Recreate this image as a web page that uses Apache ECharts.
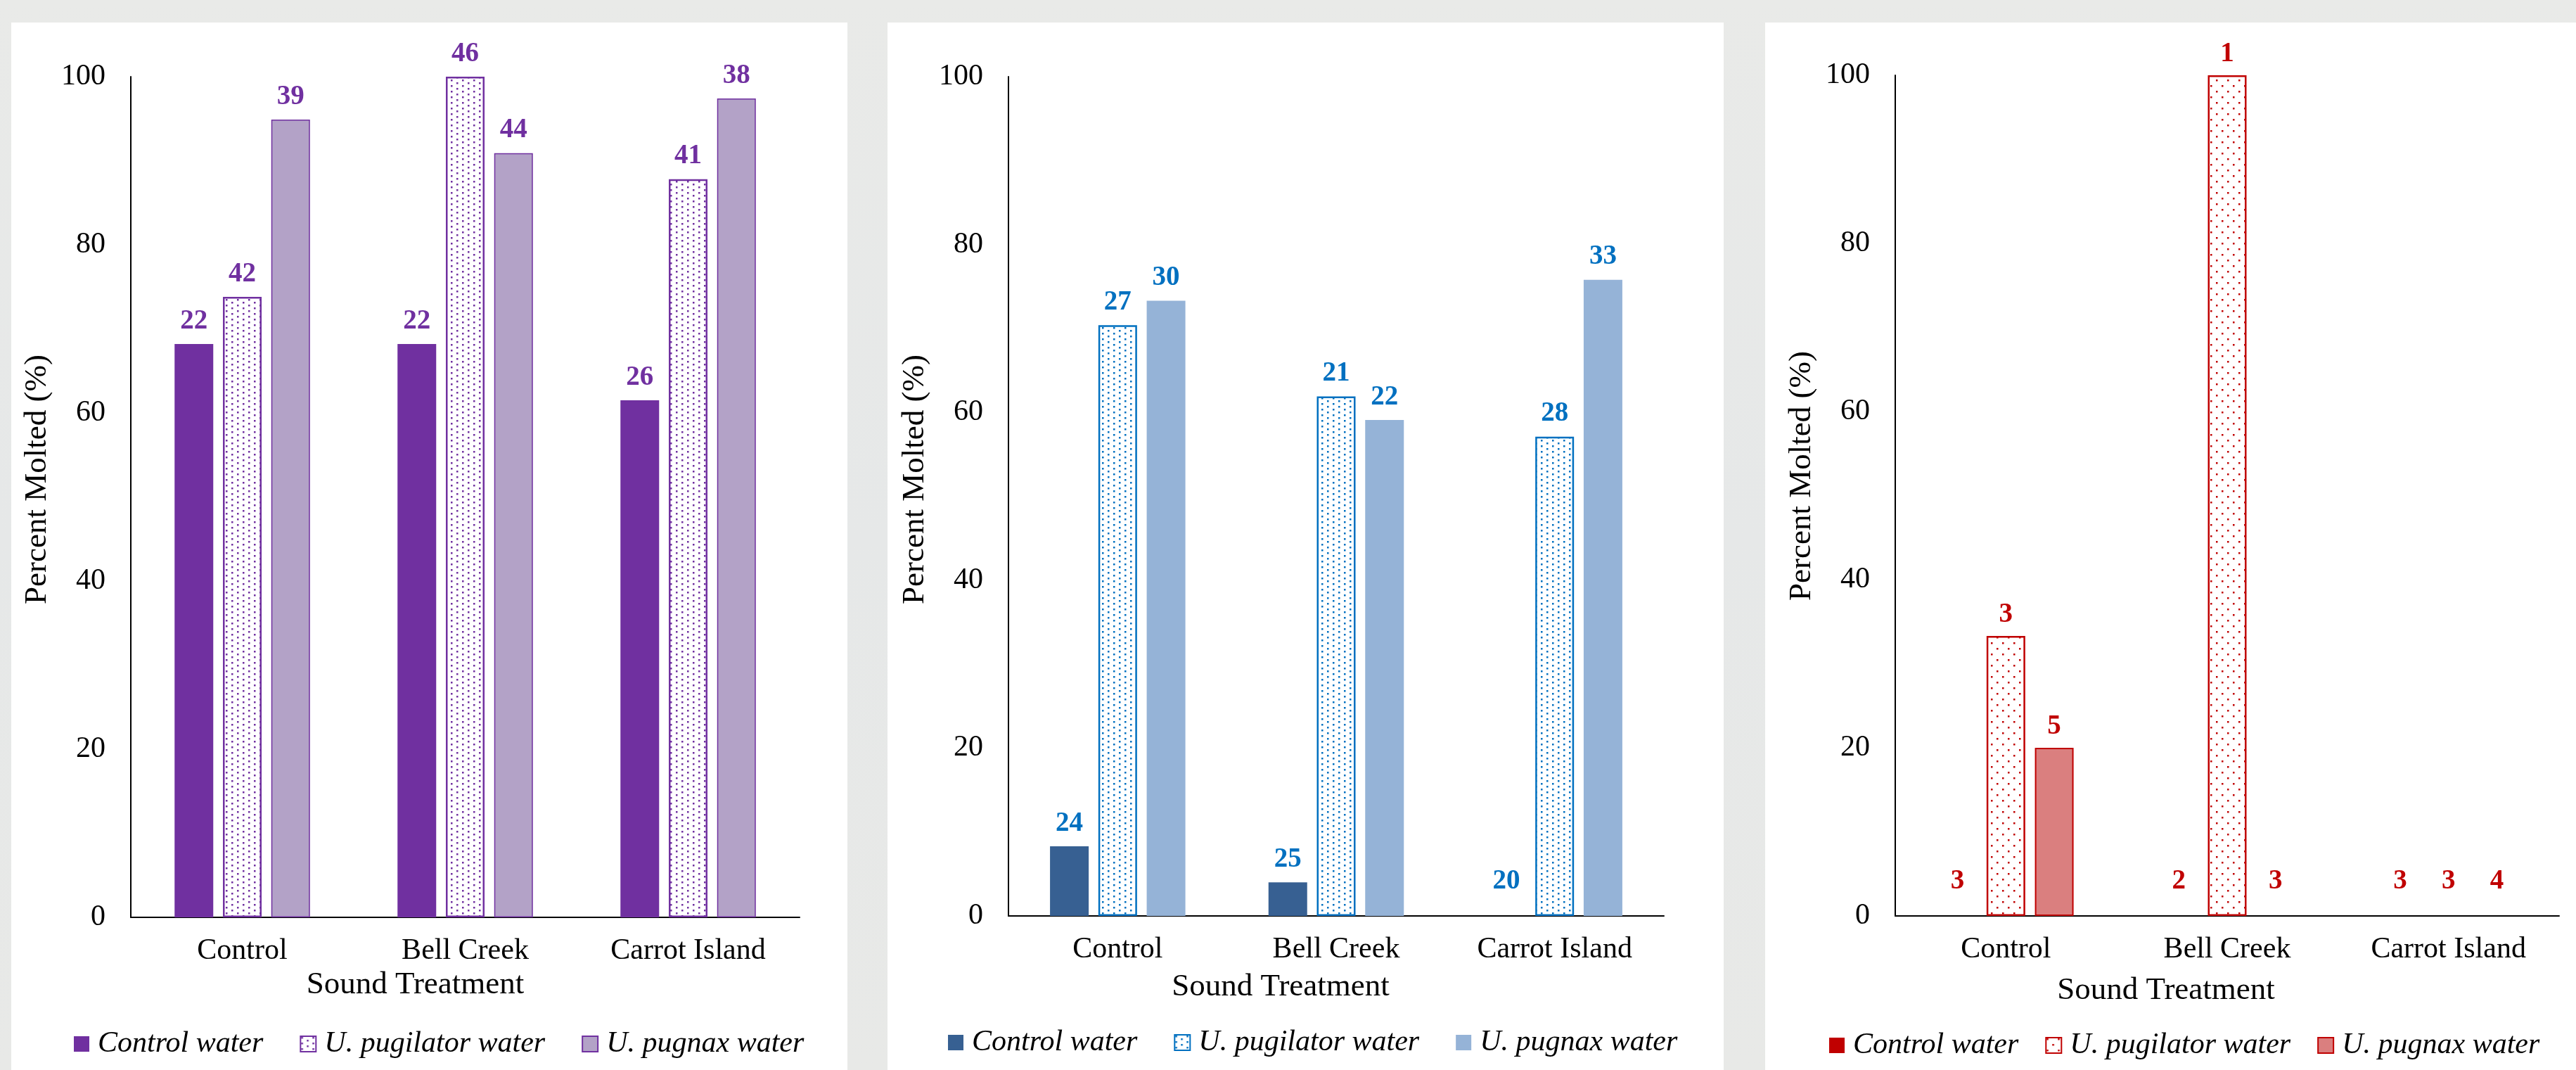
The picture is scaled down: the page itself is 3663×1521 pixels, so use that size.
<!DOCTYPE html>
<html>
<head>
<meta charset="utf-8">
<script src="https://cdn.jsdelivr.net/npm/echarts@6/dist/echarts.min.js"></script>
<style>
html,body{margin:0;padding:0;width:3663px;height:1521px;overflow:hidden;}
body{background:linear-gradient(180deg,#e9eae8 0%,#e6e8e8 50%,#e8e9e7 100%);}
.panel{position:absolute;background:#fff;top:32px;height:1489px;}
#p1{left:16px;width:1189px;}
#p2{left:1262px;width:1189px;}
#p3{left:2510px;width:1153px;}
</style>
</head>
<body>
<div id="p1" class="panel"></div>
<div id="p2" class="panel"></div>
<div id="p3" class="panel"></div>
<script>
// ---------- data ----------
const categories = ['Control', 'Bell Creek', 'Carrot Island'];
const seriesNames = ['Control water', 'U. pugilator water', 'U. pugnax water'];
const xAxisName = 'Sound Treatment';
const yAxisName = 'Percent Molted (%)';
const yTicks = [0, 20, 40, 60, 80, 100];

// Panel 1 (purple): percent molted
const p1ControlWater = [68.2, 68.2, 61.5];
const p1Pugilator = [73.8, 100, 87.8];
const p1Pugnax = [94.9, 90.9, 97.4];
// Panel 1 sample sizes (labels)
const n1ControlWater = [22, 22, 26];
const n1Pugilator = [42, 46, 41];
const n1Pugnax = [39, 44, 38];

// Panel 2 (blue)
const p2ControlWater = [8.3, 4.0, 0];
const p2Pugilator = [70.4, 61.9, 57.1];
const p2Pugnax = [73.3, 59.1, 75.8];
const n2ControlWater = [24, 25, 20];
const n2Pugilator = [27, 21, 28];
const n2Pugnax = [30, 22, 33];

// Panel 3 (red)
const p3ControlWater = [0, 0, 0];
const p3Pugilator = [33.3, 100, 0];
const p3Pugnax = [20.0, 0, 0];
const n3ControlWater = [3, 2, 3];
const n3Pugilator = [3, 1, 3];
const n3Pugnax = [5, 3, 4];

// ---------- helpers ----------
const FONT = 'Liberation Serif';

function dotPattern(color, w, h) {
  const c = document.createElement('canvas');
  c.width = w; c.height = h;
  const g = c.getContext('2d');
  g.fillStyle = '#ffffff';
  g.fillRect(0, 0, w, h);
  g.fillStyle = color;
  g.fillRect(1, 1, 2.5, 2.5);
  g.fillRect(1 + w / 2, 1 + h / 2, 2.5, 2.5);
  return { image: c, repeat: 'repeat' };
}

function buildOption(p) {
  const series = p.values.map((vals, i) => ({
    name: seriesNames[i],
    type: 'bar',
    barWidth: 55,
    barGap: '25%',
    itemStyle: p.styles[i],
    label: {
      show: true,
      position: 'top',
      distance: p.labelDist,
      fontFamily: FONT,
      fontWeight: 'bold',
      fontSize: 39,
      color: p.labelColor,
      formatter: (prm) => String(p.counts[i][prm.dataIndex])
    },
    data: vals.map(v => v === 0
      ? { value: v, label: { distance: 30 }, itemStyle: { borderWidth: 0, borderColor: 'rgba(0,0,0,0)' } }
      : { value: v })
  }));
  return {
    animation: false,
    grid: { left: p.grid[0], right: p.grid[1], top: p.grid[2], bottom: p.grid[3] },
    legend: {
      left: p.legendLeft, top: p.legendTop,
      itemWidth: 22, itemHeight: 22, itemGap: p.legendGap, icon: 'rect',
      textStyle: { fontFamily: FONT, fontStyle: 'italic', fontSize: 42, color: '#000', padding: [0, 0, 0, 7] },
      data: seriesNames
    },
    xAxis: {
      type: 'category', data: categories,
      axisLine: { lineStyle: { color: '#000', width: 2 } },
      axisTick: { show: false },
      axisLabel: { fontFamily: FONT, fontSize: 42, color: '#000', margin: 27 },
      name: xAxisName, nameLocation: 'middle', nameGap: p.xNameGap,
      nameTextStyle: { fontFamily: FONT, fontSize: 45, color: '#000', padding: [0, p.xNameShift * 2, 0, 0] }
    },
    yAxis: {
      type: 'value', min: yTicks[0], max: yTicks[yTicks.length - 1], interval: yTicks[1] - yTicks[0],
      axisLine: { show: true, lineStyle: { color: '#000', width: 2 } },
      axisTick: { show: false },
      splitLine: { show: false },
      axisLabel: { fontFamily: FONT, fontSize: 42, color: '#000', margin: 36 },
      name: yAxisName, nameLocation: 'middle', nameGap: p.yNameGap,
      nameTextStyle: { fontFamily: FONT, fontSize: 45, color: '#000', padding: [0, 0, 0, p.yNameShift * 2] }
    },
    series: series
  };
}

// ---------- panel 1 ----------
const purple = '#7030A0';
echarts.init(document.getElementById('p1'), null, { renderer: 'canvas' }).setOption(buildOption({
  grid: [170, 68, 77, 217],
  legendLeft: 84, legendTop: 1426, legendGap: 52,
  xNameGap: 74, xNameShift: 71,
  yNameGap: 101, yNameShift: 25,
  labelColor: purple, labelDist: 13,
  values: [p1ControlWater, p1Pugilator, p1Pugnax],
  counts: [n1ControlWater, n1Pugilator, n1Pugnax],
  styles: [
    { color: purple },
    { color: dotPattern(purple, 16, 8), borderColor: purple, borderWidth: 2.5 },
    { color: '#B3A2C7', borderColor: purple, borderWidth: 1.5 }
  ]
}));

// ---------- panel 2 ----------
const blue = '#0070C0';
echarts.init(document.getElementById('p2'), null, { renderer: 'canvas' }).setOption(buildOption({
  grid: [172, 85, 77, 219],
  legendLeft: 81, legendTop: 1424, legendGap: 52,
  xNameGap: 79, xNameShift: 79,
  yNameGap: 90, yNameShift: 24,
  labelColor: blue, labelDist: 13,
  values: [p2ControlWater, p2Pugilator, p2Pugnax],
  counts: [n2ControlWater, n2Pugilator, n2Pugnax],
  styles: [
    { color: '#376092' },
    { color: dotPattern(blue, 16, 8), borderColor: blue, borderWidth: 2.5 },
    { color: '#95B3D7' }
  ]
}));

// ---------- panel 3 ----------
const red = '#C00000';
echarts.init(document.getElementById('p3'), null, { renderer: 'canvas' }).setOption(buildOption({
  grid: [185, 24, 75, 219],
  legendLeft: 86, legendTop: 1428, legendGap: 38,
  xNameGap: 84, xNameShift: 87,
  yNameGap: 105, yNameShift: 28,
  labelColor: red, labelDist: 11,
  values: [p3ControlWater, p3Pugilator, p3Pugnax],
  counts: [n3ControlWater, n3Pugilator, n3Pugnax],
  styles: [
    { color: red },
    { color: dotPattern(red, 16, 16), borderColor: red, borderWidth: 2.5 },
    { color: '#DA7F7F', borderColor: red, borderWidth: 2 }
  ]
}));
</script>
</body>
</html>
